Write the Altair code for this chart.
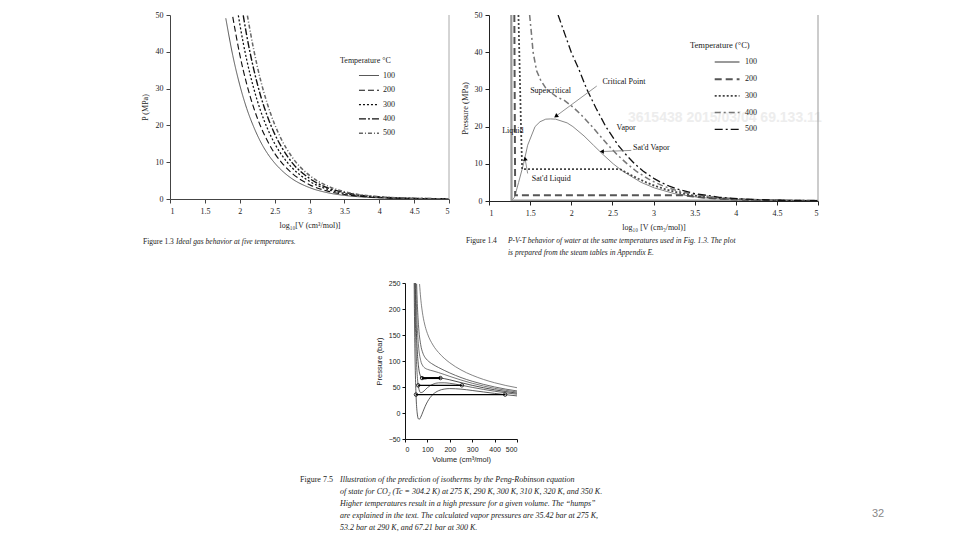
import altair as alt
import pandas as pd

SERIF = "Liberation Serif"
SANS = "Liberation Sans"

# ---------------- Figure 1.3 : ideal gas, log10 V vs P (MPa) ----------------
f13_temps = ["100", "200", "300", "400", "500"]
f13_x_100 = [1.80, 1.90, 2.00, 2.10, 2.20, 2.30, 2.40, 2.50, 2.60, 2.75, 3.00, 3.25, 3.50, 3.75, 4.00, 4.50, 5.00]
f13_p_100 = [49.1, 39.0, 31.0, 24.6, 19.6, 15.5, 12.3, 9.8, 7.8, 5.5, 3.1, 1.74, 0.98, 0.55, 0.31, 0.10, 0.03]
f13_x_200 = [1.90, 2.00, 2.10, 2.20, 2.30, 2.40, 2.50, 2.60, 2.75, 3.00, 3.25, 3.50, 3.75, 4.00, 4.50, 5.00]
f13_p_200 = [49.5, 39.3, 31.2, 24.8, 19.7, 15.7, 12.4, 9.9, 7.0, 3.9, 2.2, 1.24, 0.70, 0.39, 0.12, 0.04]
f13_x_300 = [1.98, 2.00, 2.10, 2.20, 2.30, 2.40, 2.50, 2.60, 2.75, 3.00, 3.25, 3.50, 3.75, 4.00, 4.50, 5.00]
f13_p_300 = [49.9, 47.6, 37.8, 30.1, 23.9, 19.0, 15.1, 12.0, 8.5, 4.8, 2.7, 1.5, 0.85, 0.48, 0.15, 0.05]
f13_x_400 = [2.05, 2.10, 2.20, 2.30, 2.40, 2.50, 2.60, 2.75, 3.00, 3.25, 3.50, 3.75, 4.00, 4.50, 5.00]
f13_p_400 = [49.9, 44.4, 35.3, 28.0, 22.3, 17.7, 14.1, 9.9, 5.6, 3.1, 1.8, 1.0, 0.56, 0.18, 0.06]
f13_x_500 = [2.11, 2.20, 2.30, 2.40, 2.50, 2.60, 2.75, 3.00, 3.25, 3.50, 3.75, 4.00, 4.50, 5.00]
f13_p_500 = [49.8, 40.6, 32.2, 25.6, 20.3, 16.1, 11.4, 6.4, 3.6, 2.0, 1.1, 0.64, 0.20, 0.06]
f13_xticks = [1, 1.5, 2, 2.5, 3, 3.5, 4, 4.5, 5]
f13_yticks = [0, 10, 20, 30, 40, 50]

# ---------------- Figure 1.4 : water, log10 V vs P (MPa) ----------------
f14_temps = ["100", "200", "300", "400", "500"]
f14_x_100 = [1.271, 1.274, 2.00, 3.00, 4.00, 4.47, 4.75, 5.00]
f14_p_100 = [50.0, 0.10, 0.10, 0.10, 0.10, 0.10, 0.055, 0.031]
f14_x_200 = [1.308, 1.318, 2.000, 3.361, 3.484, 3.570, 3.672, 3.802, 3.983, 4.289, 4.593, 5.000]
f14_p_200 = [50.0, 1.55, 1.55, 1.55, 1.20, 1.00, 0.80, 0.60, 0.40, 0.20, 0.10, 0.04]
f14_x_300 = [1.358, 1.389, 1.403, 2.592, 2.725, 2.814, 2.912, 3.025, 3.165, 3.354, 3.485, 3.667, 3.974, 4.375, 4.677, 5.000]
f14_p_300 = [50.0, 20.0, 8.58, 8.58, 7.0, 6.0, 5.0, 4.0, 3.0, 2.0, 1.5, 1.0, 0.5, 0.2, 0.1, 0.048]
f14_x_400 = [1.494, 1.516, 1.536, 1.579, 1.628, 1.700, 1.824, 1.920, 2.034, 2.150, 2.253, 2.450, 2.556, 2.680, 2.790,
             2.931, 3.020, 3.121, 3.253, 3.435, 3.740, 4.046, 4.446, 4.750, 5.000]
f14_p_400 = [50.0, 45.0, 40.0, 35.0, 32.5, 30.0, 28.0, 27.0, 25.0, 22.5, 20.0, 15.0, 12.5, 10.0, 8.0,
             6.0, 5.0, 4.0, 3.0, 2.0, 1.0, 0.5, 0.2, 0.1, 0.056]
f14_x_500 = [1.840, 1.920, 2.000, 2.100, 2.190, 2.300, 2.420, 2.570, 2.664, 2.770, 2.876, 3.009, 3.090, 3.192,
             3.321, 3.500, 3.800, 4.107, 4.506, 4.810, 5.000]
f14_p_500 = [50.0, 45.0, 40.0, 35.0, 30.0, 25.0, 20.0, 15.0, 12.5, 10.0, 8.0, 6.0, 5.0, 4.0,
             3.0, 2.0, 1.0, 0.5, 0.2, 0.1, 0.064]
dome_x = [1.274, 1.310, 1.360, 1.420, 1.470, 1.560, 1.620, 1.690, 1.750, 1.810, 1.950, 2.020, 2.155, 2.270,
          2.386, 2.510, 2.627, 2.850, 3.012, 3.250, 3.540, 3.830, 4.480]
dome_p = [0.1, 1.0, 5.0, 10.0, 15.0, 20.0, 21.3, 22.0, 22.06, 22.0, 21.0, 20.0, 17.5, 15.0,
          12.5, 10.0, 8.0, 5.0, 3.5, 2.0, 1.0, 0.5, 0.1]
ann_text = ["Critical Point", "Supercritical", "Liquid", "Vapor", "Sat'd Vapor", "Sat'd Liquid"]
ann_x = [2.38, 1.50, 1.16, 2.55, 2.75, 1.52]
ann_y = [32.0, 29.6, 18.8, 19.5, 14.2, 5.9]
ptr_x1 = [2.31, 2.73, 1.47]
ptr_y1 = [30.9, 13.6, 7.4]
ptr_x2 = [1.82, 2.38, 1.44]
ptr_y2 = [22.9, 13.3, 11.2]
ptr_angle = [234, 270, 350]
watermark = ["3615438 2015/03/04 69.133.11"]
wm_x = [2.69]
wm_y = [22.3]

# ---------------- Figure 7.5 : Peng-Robinson isotherms of CO2 ----------------
f75_temps = ["275 K", "290 K", "300 K", "310 K", "320 K", "350 K"]
f75_v_275 = [41, 42, 45, 47, 50, 55, 60, 65, 70, 80, 90, 100, 125, 150, 175, 200, 250, 300, 350, 400, 450, 500]
f75_p_275 = [249.8, 201.5, 103.9, 64.2, 27.0, -2.1, -11.3, -11.7, -8.1, 2.3, 12.8, 21.5, 35.8, 42.9, 46.0, 46.9,
             45.9, 43.3, 40.5, 37.7, 35.2, 32.9]
f75_v_290 = [43.8, 45, 47, 50, 55, 60, 70, 80, 90, 100, 125, 150, 175, 200, 250, 300, 350, 400, 450, 500]
f75_p_290 = [251.2, 211.7, 162.5, 113.6, 70.1, 50.4, 39.2, 40.5, 44.6, 48.7, 55.4, 58.0, 58.1, 57.1, 53.5, 49.3,
             45.4, 41.9, 38.8, 36.1]
f75_v_300 = [46, 48, 50, 55, 60, 70, 80, 90, 100, 125, 150, 175, 200, 250, 300, 350, 400, 450, 500]
f75_p_300 = [252.2, 205.1, 170.3, 117.4, 90.8, 70.3, 65.6, 65.4, 66.4, 68.1, 67.8, 66.1, 63.8, 58.4, 53.2, 48.6,
             44.6, 41.2, 38.2]
f75_v_310 = [48.8, 50, 52, 55, 60, 70, 80, 90, 100, 125, 150, 175, 200, 250, 300, 350, 400, 450, 500]
f75_p_310 = [249.2, 226.6, 196.7, 164.2, 130.8, 101.1, 90.4, 86.1, 84.0, 80.9, 77.7, 74.1, 70.4, 63.4, 57.2, 51.9,
             47.4, 43.6, 40.3]
f75_v_320 = [52, 55, 60, 70, 80, 90, 100, 125, 150, 175, 200, 250, 300, 350, 400, 450, 500]
f75_p_320 = [248.2, 210.6, 170.5, 131.6, 115.0, 106.5, 101.5, 93.4, 87.4, 82.0, 77.0, 68.2, 61.0, 55.1, 50.1,
             45.9, 42.4]
f75_v_350 = [65, 70, 75, 80, 90, 100, 125, 150, 175, 200, 250, 300, 350, 400, 450, 500]
f75_p_350 = [248.0, 221.2, 201.8, 187.2, 166.8, 152.9, 130.6, 116.2, 105.3, 96.5, 82.8, 72.6, 64.6, 58.2,
             52.9, 48.6]
tie_temps = ["275 K", "290 K", "300 K"]
tie_v_liq = [49, 59, 76]
tie_v_vap = [447, 254, 158]
tie_p = [35.42, 53.2, 67.21]
tie_w = [1.1, 1.1, 2.0]
f75_xticks = [0, 100, 200, 300, 400, 500]
f75_yticks = [-50, 0, 50, 100, 150, 200, 250]

# ---------------- captions ----------------
cap13_num = ["Figure 1.3"]
cap13_txt = ["Ideal gas behavior at five temperatures."]
cap14_num = ["Figure 1.4"]
cap14_txt = ["P-V-T behavior of water at the same temperatures used in Fig. 1.3. The plot\n"
             "is prepared from the steam tables in Appendix E."]
cap75_num = ["Figure 7.5"]
cap75_txt = ["Illustration of the prediction of isotherms by the Peng-Robinson equation\n"
             "of state for CO\u2082 (Tc = 304.2 K) at 275 K, 290 K, 300 K, 310 K, 320 K, and 350 K.\n"
             "Higher temperatures result in a high pressure for a given volume. The \u201chumps\u201d\n"
             "are explained in the text. The calculated vapor pressures are 35.42 bar at 275 K,\n"
             "53.2 bar at 290 K, and 67.21 bar at 300 K."]
page_no = ["32"]


def long_table(labels, xs, ys, xname, yname, lname):
    rows = []
    for lab, xl, yl in zip(labels, xs, ys):
        for i, (a, b) in enumerate(zip(xl, yl)):
            rows.append({lname: lab, xname: a, yname: b, "i": i})
    return pd.DataFrame(rows)


def text_layer(values, x, y, **kw):
    return alt.Chart(pd.DataFrame({"t": values})).mark_text(
        align="left", baseline="top", **kw
    ).encode(text="t:N", x=alt.value(x), y=alt.value(y))


def axis(values, title, font, size, tsize, **kw):
    base = dict(values=values, title=title, grid=False, labelOverlap=False,
                labelFont=font, labelFontSize=size, titleFont=font, titleFontSize=tsize,
                titleFontWeight="normal", labelColor="#222", titleColor="#222")
    base.update(kw)
    return alt.Axis(**base)


# ======== panel 1 ========
W1, H1 = 279, 184
df13 = long_table(f13_temps,
                  [f13_x_100, f13_x_200, f13_x_300, f13_x_400, f13_x_500],
                  [f13_p_100, f13_p_200, f13_p_300, f13_p_400, f13_p_500],
                  "x", "P", "T")
leg13 = alt.Legend(title="Temperature \u00b0C", orient="none", legendX=170, legendY=42,
                   symbolType="M-1.86,0H1", symbolSize=196, symbolOffset=24, labelOffset=3,
                   labelFont=SERIF, labelFontSize=8, titleFont=SERIF, titleFontSize=8,
                   titleFontWeight="normal", rowPadding=2.3, titlePadding=3, padding=0,
                   labelColor="#222", titleColor="#222")
ax13x = axis(f13_xticks, "log\u2081\u2080[V (cm\u00b3/mol)]", SERIF, 8, 8, format="~g", tickSize=4,
             labelPadding=4, titlePadding=6, domainColor="#444", tickColor="#444")
ax13y = axis(f13_yticks, "P (MPa)", SERIF, 8, 8, tickSize=4, labelPadding=3, titlePadding=6,
             domainColor="#444", tickColor="#444")
xs13 = alt.Scale(domain=[1, 5], nice=False)
ys13 = alt.Scale(domain=[0, 50], nice=False)
lines13 = alt.Chart(df13).mark_line(interpolate="monotone", clip=True).encode(
    x=alt.X("x:Q", scale=xs13, axis=ax13x),
    y=alt.Y("P:Q", scale=ys13, axis=ax13y),
    color=alt.Color("T:N", scale=alt.Scale(domain=f13_temps, range=["#555", "#111", "#111", "#111", "#666"]),
                    legend=leg13),
    strokeDash=alt.StrokeDash("T:N", scale=alt.Scale(domain=f13_temps,
                                                     range=[[1, 0], [6, 3], [2, 2], [7, 2, 2, 2], [4, 2, 1, 2]]),
                              legend=leg13),
    strokeWidth=alt.StrokeWidth("T:N", scale=alt.Scale(domain=f13_temps, range=[1, 1.5, 1.2, 1.2, 1.0]),
                                legend=leg13),
    order="i:Q",
)
frame13 = alt.Chart(pd.DataFrame({"x": [5], "P": [0], "P2": [50]})).mark_rule(color="#aaa", strokeWidth=1).encode(
    x=alt.X("x:Q", scale=xs13, axis=ax13x), y=alt.Y("P:Q", scale=ys13, axis=ax13y), y2="P2:Q")
p1 = alt.layer(
    lines13, frame13,
    text_layer(cap13_num, -27, 223, font=SERIF, fontSize=7.5, color="#222"),
    text_layer(cap13_txt, 6, 223, font=SERIF, fontSize=7.5, fontStyle="italic", color="#222"),
).properties(width=W1, height=H1)

# ======== panel 2 ========
W2, H2 = 329, 186
df14 = long_table(f14_temps,
                  [f14_x_100, f14_x_200, f14_x_300, f14_x_400, f14_x_500],
                  [f14_p_100, f14_p_200, f14_p_300, f14_p_400, f14_p_500],
                  "x", "P", "T")
leg14 = alt.Legend(title="Temperature (\u00b0C)", orient="none", legendX=201, legendY=26,
                   symbolType="M-2.1,0H1", symbolSize=256, symbolOffset=32, labelOffset=4,
                   labelFont=SERIF, labelFontSize=8, titleFont=SERIF, titleFontSize=8.5,
                   titleFontWeight="normal", rowPadding=3.7, titlePadding=3, padding=0,
                   labelColor="#222", titleColor="#222")
ax14x = axis(f13_xticks, "log\u2081\u2080 [V (cm\u2083/mol)]", SERIF, 8, 8, format="~g", tickSize=4,
             labelPadding=4, titlePadding=6, domainColor="#222", tickColor="#222")
ax14y = axis(f13_yticks, "Pressure (MPa)", SERIF, 8, 8.5, tickSize=4, labelPadding=3, titlePadding=5,
             domainColor="#222", tickColor="#222")
xs14 = alt.Scale(domain=[1, 5], nice=False)
ys14 = alt.Scale(domain=[0, 50], nice=False)
X14 = alt.X("x:Q", scale=xs14, axis=ax14x)
Y14 = alt.Y("P:Q", scale=ys14, axis=ax14y)
wm14 = alt.Chart(pd.DataFrame({"t": watermark, "x": wm_x, "P": wm_y})).mark_text(
    align="left", baseline="middle", font=SANS, fontSize=14, fontWeight="bold", color="#ededed"
).encode(x=X14, y=Y14, text="t:N")
dome14 = alt.Chart(pd.DataFrame({"x": dome_x, "P": dome_p, "i": list(range(len(dome_x)))})).mark_line(
    color="#888", strokeWidth=1, clip=True).encode(x=X14, y=Y14, order="i:Q")
lines14 = alt.Chart(df14).mark_line(clip=True).encode(
    x=X14, y=Y14,
    color=alt.Color("T:N", scale=alt.Scale(domain=f14_temps, range=["#9a9a9a", "#555", "#444", "#777", "#111"]),
                    legend=leg14),
    strokeDash=alt.StrokeDash("T:N", scale=alt.Scale(domain=f14_temps,
                                                     range=[[1, 0], [7, 4], [2, 2], [6, 3, 2, 3], [8, 3, 2, 3]]),
                              legend=leg14),
    strokeWidth=alt.StrokeWidth("T:N", scale=alt.Scale(domain=f14_temps, range=[2.2, 1.3, 1.0, 1.1, 1.5]),
                                legend=leg14),
    order="i:Q",
)
frame14 = alt.Chart(pd.DataFrame({"x": [5], "P": [0], "P2": [50]})).mark_rule(color="#999", strokeWidth=1).encode(
    x=X14, y=Y14, y2="P2:Q")
ptr14 = alt.Chart(pd.DataFrame({"x": ptr_x1, "P": ptr_y1, "x2": ptr_x2, "P2": ptr_y2})).mark_rule(
    color="#777", strokeWidth=0.8).encode(x=X14, y=Y14, x2="x2:Q", y2="P2:Q")
arr14 = alt.Chart(pd.DataFrame({"x": ptr_x2, "P": ptr_y2, "a": ptr_angle})).mark_point(
    shape="triangle", filled=True, color="#000", size=22, opacity=1).encode(
    x=X14, y=Y14, angle=alt.Angle("a:Q", scale=None))
ann14 = alt.Chart(pd.DataFrame({"t": ann_text, "x": ann_x, "P": ann_y})).mark_text(
    align="left", baseline="middle", font=SERIF, fontSize=8, color="#111").encode(x=X14, y=Y14, text="t:N")
p2 = alt.layer(
    wm14, dome14, lines14, frame14, ptr14, arr14, ann14,
    text_layer(cap14_num, -23, 222, font=SERIF, fontSize=7.5, color="#222"),
    text_layer(cap14_txt, 19, 222, font=SERIF, fontSize=7.5, fontStyle="italic", color="#222", lineHeight=12,
               lineBreak="\n"),
).properties(width=W2, height=H2)

# ======== panel 3 ========
W3, H3 = 112, 156
df75 = long_table(f75_temps,
                  [f75_v_275, f75_v_290, f75_v_300, f75_v_310, f75_v_320, f75_v_350],
                  [f75_p_275, f75_p_290, f75_p_300, f75_p_310, f75_p_320, f75_p_350],
                  "V", "P", "T")
ax75x = axis(f75_xticks, "Volume (cm\u00b3/mol)", SANS, 7, 7.5, tickSize=3, labelPadding=3, titlePadding=3,
             domainColor="#111", tickColor="#111")
ax75y = axis(f75_yticks, "Pressure (bar)", SANS, 7, 7.5, tickSize=3, labelPadding=2, titlePadding=5,
             domainColor="#111", tickColor="#111")
X75 = alt.X("V:Q", scale=alt.Scale(domain=[0, 500], nice=False), axis=ax75x)
Y75 = alt.Y("P:Q", scale=alt.Scale(domain=[-50, 250], nice=False), axis=ax75y)
lines75 = alt.Chart(df75).mark_line(interpolate="monotone", clip=True, strokeWidth=0.8).encode(
    x=X75, y=Y75,
    color=alt.Color("T:N", scale=alt.Scale(domain=f75_temps,
                                           range=["#333", "#444", "#222", "#555", "#444", "#666"]), legend=None),
    order="i:Q",
)
tie75 = alt.Chart(pd.DataFrame({"T": tie_temps, "V": tie_v_liq, "V2": tie_v_vap, "P": tie_p, "w": tie_w})).mark_rule(
    color="#000").encode(x=X75, x2="V2:Q", y=Y75, strokeWidth=alt.StrokeWidth("w:Q", scale=None))
ends_v = tie_v_liq + tie_v_vap
ends_p = tie_p + tie_p
dots75 = alt.Chart(pd.DataFrame({"V": ends_v, "P": ends_p})).mark_point(
    shape="circle", filled=False, size=12, color="#000", strokeWidth=0.8, opacity=1).encode(x=X75, y=Y75)
p3 = alt.layer(
    lines75, tie75, dots75,
    text_layer(cap75_num, -105, 193, font=SERIF, fontSize=8, color="#222"),
    text_layer(cap75_txt, -65, 193, font=SERIF, fontSize=8, fontStyle="italic", color="#222", lineHeight=12,
               lineBreak="\n"),
    text_layer(page_no, 467, 225, font=SANS, fontSize=11, color="#888"),
).properties(width=W3, height=H3)


def spacer(w, h):
    return alt.Chart(pd.DataFrame({"s": [0]})).mark_point(opacity=0).encode(
        x=alt.X("s:Q", axis=None), y=alt.Y("s:Q", axis=None)).properties(width=w, height=h)


res = dict(x="independent", y="independent", color="independent", strokeDash="independent",
           strokeWidth="independent")
top = alt.hconcat(spacer(122, 10), p1, p2, spacing=40, bounds="flush").resolve_scale(**res)
bottom = alt.hconcat(spacer(377, 10), p3, spacing=20, bounds="flush").resolve_scale(**res)
chart = alt.vconcat(top, bottom, spacing=268, bounds="flush").resolve_scale(**res).properties(
    padding={"left": 0, "top": 3, "right": 0, "bottom": 0},
    background="white",
).configure_view(stroke=None)

chart.save("out.html", embed_options={"renderer": "svg", "actions": False})
